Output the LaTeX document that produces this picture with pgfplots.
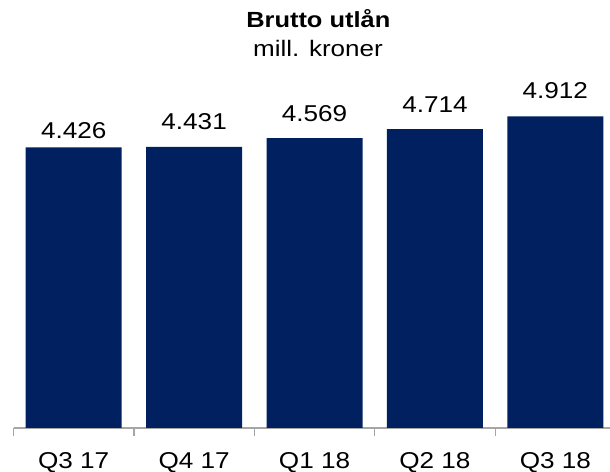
\documentclass[border=0pt]{standalone}
\usepackage{fontspec}
\setmainfont{Liberation Sans}
\usepackage{graphicx}
\usepackage{pgfplots}
\usepackage{pgfplotstable}
\pgfplotsset{compat=1.18}
\definecolor{navy}{HTML}{002060}
\definecolor{axisgray}{HTML}{A6A6A6}
\newcommand{\sx}[1]{\scalebox{1.14}[1]{#1}}
\newcommand{\lbl}{\fontsize{23}{27}\selectfont}

% x, value, label lift above bar (bp)
\pgfplotstableread{
x value lift
0 4426 9
1 4431 17
2 4569 17
3 4714 17
4 4912 17.5
}\loans

\begin{document}
\begin{tikzpicture}[x=1bp,y=1bp]
\begin{axis}[
    scale only axis, width=596.5bp, height=380.5bp,
    ybar, bar width=96bp,
    xmin=-0.5, xmax=4.454, ymin=0, ymax=6000,
    axis x line*=bottom, axis y line=none,
    x axis line style={axisgray, line width=1.2bp},
    xtick={0,...,4},
    xticklabels={\sx{Q3 17},\sx{Q4 17},\sx{Q1 18},\sx{Q2 18},\sx{Q3 18}},
    minor xtick={-0.5,0.5,1.5,2.5,3.5},
    major tick length=0pt, minor tick length=8bp, tick align=outside,
    every minor tick/.style={axisgray, line width=1.2bp},
    xticklabel style={font=\lbl, anchor=base, inner sep=0pt, yshift=-40.3bp},
    visualization depends on={\thisrow{lift} \as \lift},
    nodes near coords={\sx{\pgfmathprintnumber{\pgfplotspointmeta}}},
    every node near coord/.append style={font=\lbl, black, anchor=base, inner sep=0pt, yshift=\lift bp},
    clip=false,
    /pgf/number format/.cd, 1000 sep={.}, assume math mode=true,
]
\addplot[fill=navy, draw=none] table[x=x, y=value] {\loans};
\coordinate (o) at (axis cs:-0.5,0);
\end{axis}
\begin{scope}[shift={(o)}]
\node[anchor=base, font=\fontsize{22}{26}\selectfont\bfseries] at (304.8,400.3) {\scalebox{1.16}[1]{Brutto utlån}};
\node[anchor=base, font=\fontsize{22.5}{26}\selectfont] at (304.5,371.3) {\scalebox{1.16}[1]{mill. kroner}};
\pgfresetboundingbox
\path[use as bounding box] (-13.5,-44) rectangle (596.5,428);
\end{scope}
\end{tikzpicture}
\end{document}
